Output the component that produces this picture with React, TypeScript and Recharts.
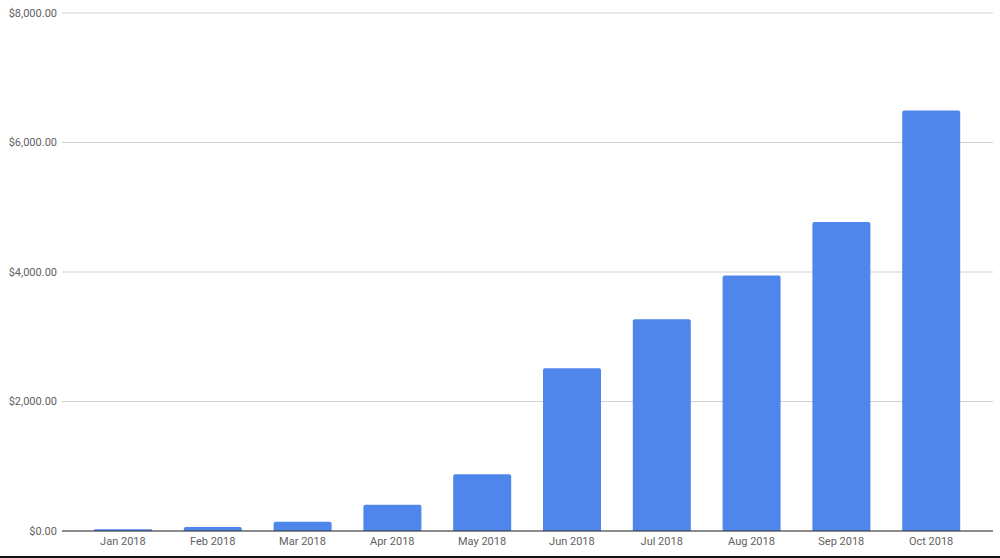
import React from 'react';
import { BarChart, Bar, XAxis, YAxis, CartesianGrid } from 'recharts';

const months = ['Jan 2018', 'Feb 2018', 'Mar 2018', 'Apr 2018', 'May 2018', 'Jun 2018', 'Jul 2018', 'Aug 2018', 'Sep 2018', 'Oct 2018'];
const amounts = [26, 62, 144, 406, 875, 2515, 3272, 3946, 4771, 6496];
const yTicks = [0, 2000, 4000, 6000, 8000];

const data = months.map((month, i) => ({ month, amount: amounts[i] }));

const formatMoney = (v: number) =>
    `$${v.toLocaleString('en-US', { minimumFractionDigits: 2, maximumFractionDigits: 2 })}`;

const tickStyle = { fontFamily: 'Roboto, Arial, sans-serif', fontSize: 11, fill: '#5f5f5f' };

const App: React.FC = () => {
    return (
        <div style={{ position: 'fixed', top: 0, left: 0, width: 1000, height: 558, background: '#fff' }}>
            <BarChart
                width={1000}
                height={558}
                data={data}
                margin={{ top: 13, right: 7, left: 0, bottom: 0 }}
            >
                <CartesianGrid vertical={false} stroke="#d0d0d0" />
                <XAxis
                    dataKey="month"
                    height={27}
                    padding={{ left: 16, right: 17 }}
                    tickSize={0}
                    tickMargin={6}
                    tick={tickStyle}
                    axisLine={{ stroke: '#333' }}
                    interval={0}
                />
                <YAxis
                    width={62}
                    domain={[0, 8000]}
                    ticks={yTicks}
                    tickFormatter={formatMoney}
                    tickSize={0}
                    tickMargin={5}
                    tick={tickStyle}
                    axisLine={false}
                />
                <Bar dataKey="amount" fill="#4f86ec" barSize={58} radius={[2, 2, 0, 0]} isAnimationActive={false} />
            </BarChart>
            <div style={{ position: 'absolute', left: 0, bottom: 0, width: 1000, height: 2, background: '#111' }} />
        </div>
    );
};

export default App;
